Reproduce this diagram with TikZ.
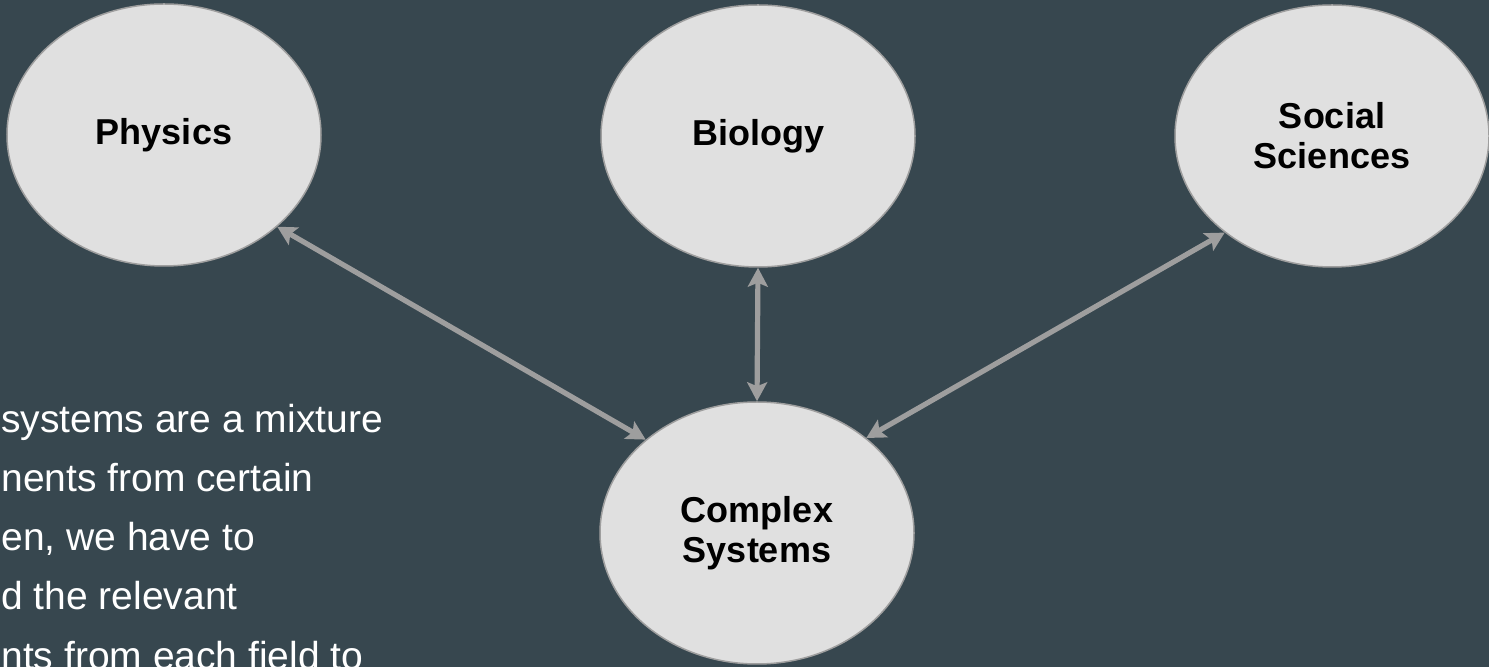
\documentclass[tikz,border=0pt]{standalone}
\usepackage{fontspec}
\setmainfont{Liberation Sans}
\usetikzlibrary{shapes.geometric,arrows.meta}
\definecolor{slate}{HTML}{37474F}
\definecolor{discfill}{HTML}{E0E0E0}
\definecolor{linkgrey}{HTML}{9E9E9E}
\tikzset{
  field/.style={ellipse, draw=linkgrey, line width=0.75pt, fill=discfill,
    minimum width=157pt, minimum height=131pt, inner sep=0pt, align=center,
    font=\bfseries\fontsize{18}{20}\selectfont},
  link/.style={linkgrey, line width=2.6pt,
    {Stealth[length=9.5pt,width=10pt,inset=2pt]}-{Stealth[length=9.5pt,width=10pt,inset=2pt]}},
  bodytext/.style={anchor=base west, inner sep=0pt, text=white,
    font=\fontsize{19.5}{23}\selectfont}
}
\begin{document}
\begin{tikzpicture}[x=0.5pt, y=-0.5pt]
  \fill[slate] (0,0) rectangle (1489,667);
  \useasboundingbox (0,0) rectangle (1489,667);
  \clip (0,0) rectangle (1489,667);
  % the fields
  \node[field] (phys) at (164,135) {Physics};
  \node[field] (bio)  at (758,136) {Biology};
  \node[field] (soc)  at (1332,136) {Social\\Sciences};
  \node[field] (cs)   at (757,533) {Complex\\Systems};
  % links to complex systems
  \draw[link] (phys.-39) -- (cs.140);
  \draw[link] (bio.south) -- (cs.north);
  \draw[link] (soc.-138) -- (cs.41);
  % text on the left, cut by the frame
  \foreach \ln [count=\i from 0] in {systems are a mixture, nents from certain,
      {en, we have to}, d the relevant, nts from each field to}
    \node[bodytext] (line\i) at (1,433+59*\i) {\ln};
\end{tikzpicture}
\end{document}
